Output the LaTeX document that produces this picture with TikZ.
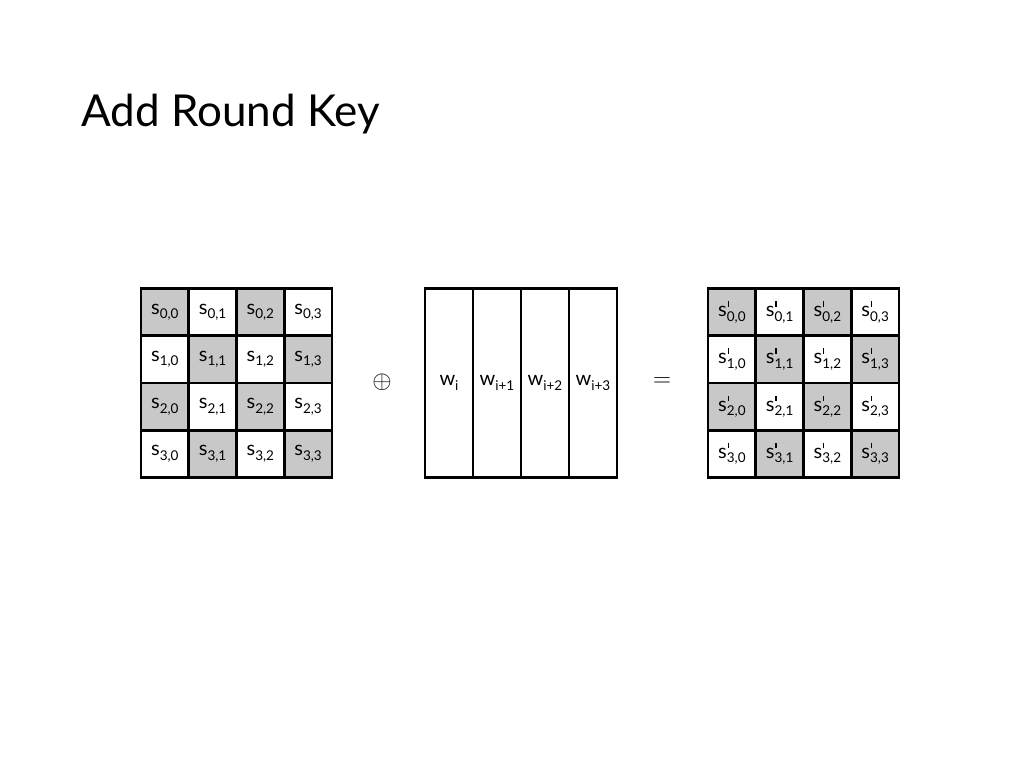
\documentclass[tikz,border=0pt]{standalone}
\usepackage{fontspec}
\setmainfont{Lato}
\definecolor{cellgray}{RGB}{200,200,200}
\newcommand\subfont{\fontsize{13.5}{13.5}\selectfont}
\newcommand\sv[1]{s\raisebox{-0.45ex}{\subfont #1}}
\newcommand\svp[1]{s\rlap{\hspace{0.8pt}\raisebox{10pt}{\rule{1.1pt}{5.5pt}}}\raisebox{-0.45ex}{\subfont #1}}
\newcommand\wv[1]{w\raisebox{-0.45ex}{\subfont #1}}
\begin{document}
\begin{tikzpicture}[x=1pt,y=-1pt,
  cell/.style={draw=black, line width=2.8pt, minimum width=47.75pt, minimum height=47.25pt, inner sep=0pt, font=\fontsize{20}{22}\selectfont},
  shaded/.style={cell, fill=cellgray},
  plain/.style={cell, fill=white},
  keycol/.style={draw=black, line width=2.8pt, minimum width=48pt, minimum height=189pt, inner sep=0pt, font=\fontsize{20}{22}\selectfont, fill=white},
  title/.style={anchor=base west, inner sep=0pt, font=\fontsize{44}{50}\selectfont}
]
\useasboundingbox (0,0) rectangle (1024,767);
\fill[white] (0,0) rectangle (1024,767);
\node[title] (title) at (81,127) {Add Round Key};
% left state
\foreach \r in {0,...,3}{
  \foreach \c in {0,...,3}{
    \pgfmathtruncatemacro\pp{mod(\r+\c,2)}
    \ifnum\pp=0 \def\sty{shaded}\else\def\sty{plain}\fi
    \node[\sty] (L-\r-\c) at ({141+47.75*(\c+0.5)}, {288.5+47.25*(\r+0.5)}) {\sv{\r,\c}};
  }
}
% right state
\foreach \r in {0,...,3}{
  \foreach \c in {0,...,3}{
    \pgfmathtruncatemacro\pp{mod(\r+\c,2)}
    \ifnum\pp=0 \def\sty{shaded}\else\def\sty{plain}\fi
    \node[\sty] (R-\r-\c) at ({708+47.75*(\c+0.5)}, {288.5+47.25*(\r+0.5)}) {\svp{\r,\c}};
  }
}
% key columns
\node[keycol] (K-0) at ({425+48*0.5}, 383) {\raisebox{4pt}{\wv{i}}};
\node[keycol] (K-1) at ({425+48*1.5}, 383) {\raisebox{4pt}{\wv{i+1}}};
\node[keycol] (K-2) at ({425+48*2.5}, 383) {\raisebox{4pt}{\wv{i+2}}};
\node[keycol] (K-3) at ({425+48*3.5}, 383) {\raisebox{4pt}{\wv{i+3}}};
% operators
\node[font=\fontsize{26}{26}\selectfont, inner sep=0pt] (op) at (382,382) {$\oplus$};
\node[font=\fontsize{26}{26}\selectfont, inner sep=0pt] (eq) at (662,382) {$=$};
\end{tikzpicture}
\end{document}
